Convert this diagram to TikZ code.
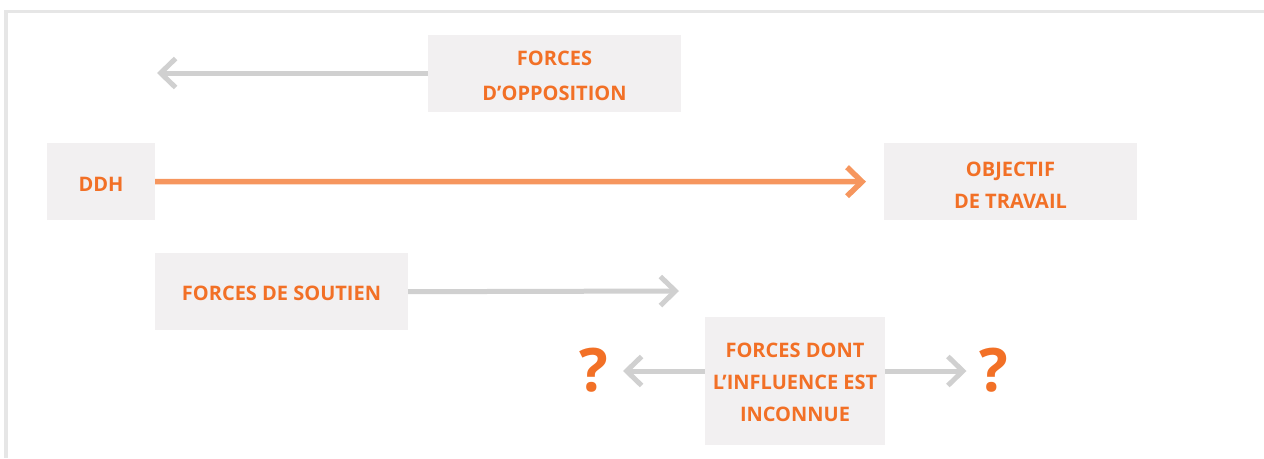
\documentclass[tikz,border=0pt]{standalone}
\usepackage{fontspec}
\setmainfont{Open Sans}
\usetikzlibrary{arrows.meta}

\definecolor{boxfill}{HTML}{F2F0F1}
\definecolor{txtorange}{HTML}{F27026}
\definecolor{lineorange}{HTML}{F6965E}
\definecolor{arrowgray}{HTML}{D0D0D0}
\definecolor{framegray}{HTML}{E6E6E6}

\tikzset{
  panel/.style={fill=boxfill, draw=none, inner sep=0pt},
  txt/.style={text=txtorange, align=center, inner sep=0pt,
    font=\fontsize{20}{32}\selectfont\bfseries},
  qmark/.style={text=txtorange, inner sep=0pt,
    font=\fontsize{60}{60}\selectfont\bfseries},
  tipbarb/.style={-{Straight Barb[length=15pt, width=29pt, sharp]}},
  grayarrow/.style={draw=arrowgray, line width=5pt, tipbarb},
  mainarrow/.style={draw=lineorange, line width=5.5pt, tipbarb},
}

\begin{document}
\begin{tikzpicture}[x=1pt, y=-1pt]
  \useasboundingbox (0,0) rectangle (1264,458);

  % open frame along the top and left edges
  \draw[framegray, line width=3.5pt] (5.8,458) -- (5.8,11.5) -- (1264,11.5);

  % panels
  \node[panel, minimum width=253pt, minimum height=77pt]  (opp)  at (554.5,73)    {};
  \node[panel, minimum width=108pt, minimum height=77pt]  (ddh)  at (101,181.5)   {};
  \node[panel, minimum width=253pt, minimum height=77pt]  (obj)  at (1010.5,181.7){};
  \node[panel, minimum width=253pt, minimum height=77pt]  (sout) at (281.5,291.7) {};
  \node[panel, minimum width=180pt, minimum height=128pt] (inc)  at (795,380.5)   {};

  % panel labels
  \node[txt, font=\fontsize{20}{35}\selectfont\bfseries, yshift=-2.8pt] (oppt) at (opp) {FORCES\\D’OPPOSITION};
  \node[txt, yshift=-3pt] (ddht) at (ddh) {DDH};
  \node[txt, yshift=-3.4pt] (objt) at (obj) {OBJECTIF\\DE TRAVAIL};
  \node[txt, yshift=-1.8pt] (soutt) at (sout) {FORCES DE SOUTIEN};
  \node[txt, yshift=-2pt] (inct) at (inc) {FORCES DONT\\L’INFLUENCE EST\\INCONNUE};

  % question marks
  \node[qmark] (ql) at (594,370) {?};
  \node[qmark] (qr) at (993.5,370) {?};

  % arrow end points
  \coordinate (oppend)  at (157,73);
  \coordinate (ddhend)  at (866,181.7);
  \coordinate (soutend) at (679,291);
  \coordinate (incl)    at (623,371);
  \coordinate (incr)    at (966.5,371);

  % connectors
  \draw[grayarrow] (opp.west) -- (oppend);
  \draw[mainarrow] (ddh.east) -- (ddhend);
  \draw[grayarrow] (sout.east) -- (soutend);
  \draw[grayarrow] (inc.west |- incl) -- (incl);
  \draw[grayarrow] (inc.east |- incr) -- (incr);
\end{tikzpicture}
\end{document}
